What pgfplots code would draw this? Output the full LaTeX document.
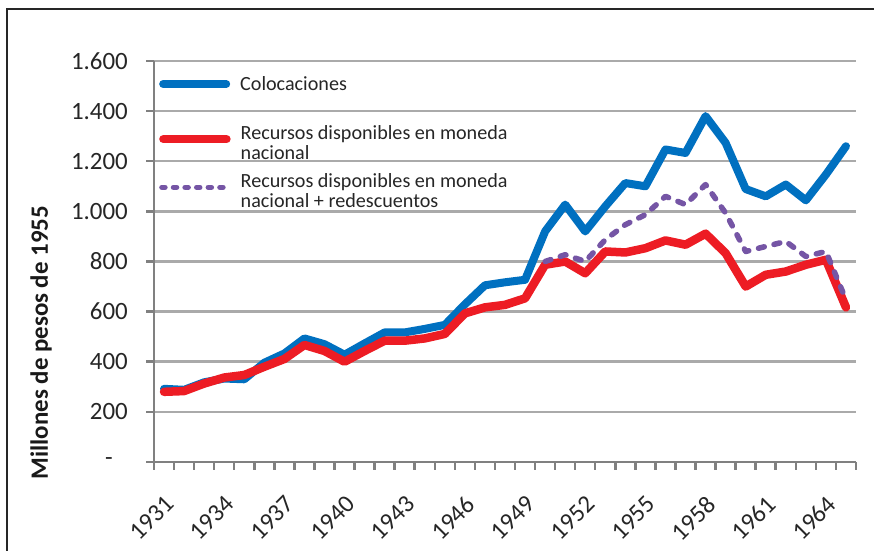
\documentclass[border=0pt]{standalone}
\usepackage{fontspec}
\setmainfont{Carlito}
\usepackage{pgfplots}
\pgfplotsset{compat=1.18}

\definecolor{colblue}{RGB}{0,112,192}
\definecolor{colred}{RGB}{237,28,36}
\definecolor{colpurple}{RGB}{117,85,165}
\definecolor{gridgray}{RGB}{170,170,170}
\definecolor{axisgray}{RGB}{128,128,128}

% one-entry legends, laid over the plot at fixed heights
\pgfplotsset{
    legendbox/.style={
        at={(154bp,89bp)}, anchor=south west,
        width=702bp, height=401bp, scale only axis,
        hide axis, xmin=0, xmax=1, ymin=0, ymax=1,
        legend style={at={(axis description cs:0.0071,#1)}, anchor=west,
            draw=none, fill=none, font=\fontsize{20.2}{20}\selectfont,
            column sep=9bp, inner sep=0pt, nodes={inner sep=1bp, text=black!85}},
        legend cell align=left,
        legend image code/.code={\draw[##1] (4bp,0bp) -- (67bp,0bp);},
    },
}

\begin{document}
\begin{tikzpicture}[x=1bp,y=1bp]
\useasboundingbox (0,0) rectangle (874,551);
\clip (0,0) rectangle (874,551);
\fill[white] (0,0) rectangle (874,551);
\draw[line width=2bp, black!85] (7,-20) -- (7,542) -- (900,542);
\begin{axis}[
    at={(154bp,89bp)}, anchor=south west,
    width=702bp, height=401bp, scale only axis,
    xmin=1930.5, xmax=1965.5,
    ymin=0, ymax=1600,
    axis lines*=left,
    axis line style={axisgray, line width=2.5bp},
    tick align=outside,
    xtick={1931,1934,...,1964},
    xticklabels={1931,1934,1937,1940,1943,1946,1949,1952,1955,1958,1961,1964},
    minor xtick={1930.5,1931.5,...,1965.5},
    every major x tick/.style={draw=none},
    every minor x tick/.style={axisgray, line width=2.5bp},
    minor tick length=8bp,
    major tick length=8bp,
    ytick={0,200,...,1600},
    yticklabels={{-\hspace*{15bp}},200,400,600,800,1.000,1.200,1.400,1.600},
    every major y tick/.style={axisgray, line width=2.5bp},
    ymajorgrids=true,
    grid style={gridgray, line width=2.5bp},
    /pgf/number format/assume math mode=true,
    tick label style={font=\fontsize{25}{25}\selectfont, black!85},
    yticklabel style={anchor=east, inner sep=0pt, xshift=-18bp},
    xticklabel style={rotate=45, anchor=north east, inner sep=0pt},
    xticklabel shift=24bp,
    ylabel={\bfseries Millones de pesos de 1955},
    ylabel style={font=\fontsize{25}{25}\selectfont, black!90, at={(axis description cs:-0.161,0.2975)}, anchor=center},
]
\addplot[colblue, line width=8bp, line join=round, line cap=round] coordinates {
    (1931,292) (1932,288) (1933,318) (1934,333) (1935,330) (1936,396)
    (1937,433) (1938,493) (1939,470) (1940,428) (1941,473) (1942,517)
    (1943,517) (1944,531) (1945,547) (1946,629) (1947,705) (1948,717)
    (1949,727) (1950,920) (1951,1027) (1952,920) (1953,1020) (1954,1113)
    (1955,1100) (1956,1247) (1957,1233) (1958,1380) (1959,1273) (1960,1089)
    (1961,1060) (1962,1107) (1963,1044) (1964,1147) (1965,1260)
};
\addplot[colred, line width=8.5bp, line join=round, line cap=round] coordinates {
    (1931,280) (1932,283) (1933,313) (1934,337) (1935,347) (1936,380)
    (1937,411) (1938,467) (1939,443) (1940,400) (1941,443) (1942,484)
    (1943,484) (1944,493) (1945,511) (1946,593) (1947,617) (1948,627)
    (1949,653) (1950,787) (1951,800) (1952,753) (1953,840) (1954,836)
    (1955,853) (1956,884) (1957,867) (1958,911) (1959,833) (1960,700)
    (1961,747) (1962,760) (1963,787) (1964,807) (1965,617)
};
\addplot[colpurple, line width=5.5bp, line join=round, line cap=round,
    dash pattern=on 6bp off 10bp] coordinates {
    (1950,800) (1951,827) (1952,800) (1953,887) (1954,947) (1955,987)
    (1956,1060) (1957,1027) (1958,1107) (1959,993) (1960,840) (1961,860)
    (1962,880) (1963,820) (1964,840) (1965,647)
};
\end{axis}

\begin{axis}[legendbox=0.9426]
\addlegendimage{colblue, line width=8bp, line cap=round}
\addlegendentry{Colocaciones}
\end{axis}
\begin{axis}[legendbox=0.805]
\addlegendimage{colred, line width=8.5bp, line cap=round}
\addlegendentry{\begin{tabular}{@{}l@{}}Recursos disponibles en moneda\\nacional\end{tabular}}
\end{axis}
\begin{axis}[legendbox=0.685]
\addlegendimage{colpurple, line width=5.5bp, line cap=round, dash pattern=on 3bp off 8.6bp}
\addlegendentry{\hspace*{3bp}\begin{tabular}{@{}l@{}}Recursos disponibles en moneda\\nacional + redescuentos\end{tabular}}
\end{axis}
\end{tikzpicture}
\end{document}
